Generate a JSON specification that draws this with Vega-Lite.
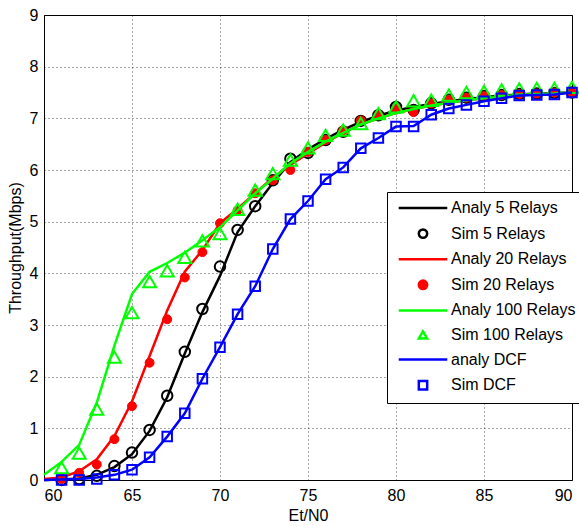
{
  "$schema": "https://vega.github.io/schema/vega-lite/v6.json",
  "width": 528,
  "height": 465,
  "autosize": "none",
  "padding": {"left": 44, "top": 15, "right": 7, "bottom": 47},
  "background": "white",
  "config": {
    "font": "Liberation Sans",
    "view": {"stroke": "black", "strokeWidth": 1},
    "axis": {
      "grid": true, "gridColor": "black", "gridDash": [1, 3], "gridOpacity": 0.7, "gridWidth": 1,
      "domain": false, "ticks": false,
      "labelFont": "Liberation Sans", "labelFontSize": 16, "labelColor": "black",
      "titleFont": "Liberation Sans", "titleFontSize": 16, "titleFontWeight": "normal", "titleColor": "black"
    },
    "legend": {
      "orient": "none", "legendX": 343, "legendY": 177,
      "strokeColor": "black", "fillColor": "white", "padding": 8,
      "labelFont": "Liberation Sans", "labelFontSize": 16, "labelColor": "black",
      "rowPadding": 7.6, "symbolSize": 70, "symbolStrokeWidth": 2.5,
      "symbolOffset": 20, "labelOffset": 20, "cornerRadius": 0
    }
  },
  "datasets": {
    "pts": [
      {"series": "Analy 5 Relays", "x": 60, "y": 0}, {"series": "Analy 5 Relays", "x": 61, "y": 0.01}, {"series": "Analy 5 Relays", "x": 62, "y": 0.03}, {"series": "Analy 5 Relays", "x": 63, "y": 0.1}, {"series": "Analy 5 Relays", "x": 64, "y": 0.25}, {"series": "Analy 5 Relays", "x": 65, "y": 0.5}, {"series": "Analy 5 Relays", "x": 66, "y": 0.95}, {"series": "Analy 5 Relays", "x": 67, "y": 1.6}, {"series": "Analy 5 Relays", "x": 68, "y": 2.45}, {"series": "Analy 5 Relays", "x": 69, "y": 3.25}, {"series": "Analy 5 Relays", "x": 70, "y": 3.95}, {"series": "Analy 5 Relays", "x": 71, "y": 4.8}, {"series": "Analy 5 Relays", "x": 72, "y": 5.3}, {"series": "Analy 5 Relays", "x": 73, "y": 5.75}, {"series": "Analy 5 Relays", "x": 74, "y": 6.15}, {"series": "Analy 5 Relays", "x": 75, "y": 6.4}, {"series": "Analy 5 Relays", "x": 76, "y": 6.6}, {"series": "Analy 5 Relays", "x": 77, "y": 6.78}, {"series": "Analy 5 Relays", "x": 78, "y": 6.93}, {"series": "Analy 5 Relays", "x": 79, "y": 7.05}, {"series": "Analy 5 Relays", "x": 80, "y": 7.15}, {"series": "Analy 5 Relays", "x": 81, "y": 7.22}, {"series": "Analy 5 Relays", "x": 82, "y": 7.28}, {"series": "Analy 5 Relays", "x": 83, "y": 7.33}, {"series": "Analy 5 Relays", "x": 84, "y": 7.37}, {"series": "Analy 5 Relays", "x": 85, "y": 7.41}, {"series": "Analy 5 Relays", "x": 86, "y": 7.44}, {"series": "Analy 5 Relays", "x": 87, "y": 7.46}, {"series": "Analy 5 Relays", "x": 88, "y": 7.48}, {"series": "Analy 5 Relays", "x": 89, "y": 7.49}, {"series": "Analy 5 Relays", "x": 90, "y": 7.5},
      {"series": "Sim 5 Relays", "x": 61, "y": 0}, {"series": "Sim 5 Relays", "x": 62, "y": 0.02}, {"series": "Sim 5 Relays", "x": 63, "y": 0.08}, {"series": "Sim 5 Relays", "x": 64, "y": 0.27}, {"series": "Sim 5 Relays", "x": 65, "y": 0.53}, {"series": "Sim 5 Relays", "x": 66, "y": 0.97}, {"series": "Sim 5 Relays", "x": 67, "y": 1.63}, {"series": "Sim 5 Relays", "x": 68, "y": 2.48}, {"series": "Sim 5 Relays", "x": 69, "y": 3.31}, {"series": "Sim 5 Relays", "x": 70, "y": 4.13}, {"series": "Sim 5 Relays", "x": 71, "y": 4.84}, {"series": "Sim 5 Relays", "x": 72, "y": 5.3}, {"series": "Sim 5 Relays", "x": 73, "y": 5.8}, {"series": "Sim 5 Relays", "x": 74, "y": 6.22}, {"series": "Sim 5 Relays", "x": 75, "y": 6.33}, {"series": "Sim 5 Relays", "x": 76, "y": 6.58}, {"series": "Sim 5 Relays", "x": 77, "y": 6.74}, {"series": "Sim 5 Relays", "x": 78, "y": 6.95}, {"series": "Sim 5 Relays", "x": 79, "y": 7.06}, {"series": "Sim 5 Relays", "x": 80, "y": 7.22}, {"series": "Sim 5 Relays", "x": 81, "y": 7.16}, {"series": "Sim 5 Relays", "x": 82, "y": 7.29}, {"series": "Sim 5 Relays", "x": 83, "y": 7.36}, {"series": "Sim 5 Relays", "x": 84, "y": 7.4}, {"series": "Sim 5 Relays", "x": 85, "y": 7.43}, {"series": "Sim 5 Relays", "x": 86, "y": 7.45}, {"series": "Sim 5 Relays", "x": 87, "y": 7.47}, {"series": "Sim 5 Relays", "x": 88, "y": 7.48}, {"series": "Sim 5 Relays", "x": 89, "y": 7.49}, {"series": "Sim 5 Relays", "x": 90, "y": 7.5},
      {"series": "Analy 20 Relays", "x": 60, "y": 0.02}, {"series": "Analy 20 Relays", "x": 61, "y": 0.05}, {"series": "Analy 20 Relays", "x": 62, "y": 0.17}, {"series": "Analy 20 Relays", "x": 63, "y": 0.4}, {"series": "Analy 20 Relays", "x": 64, "y": 0.85}, {"series": "Analy 20 Relays", "x": 65, "y": 1.52}, {"series": "Analy 20 Relays", "x": 66, "y": 2.4}, {"series": "Analy 20 Relays", "x": 67, "y": 3.28}, {"series": "Analy 20 Relays", "x": 68, "y": 4.03}, {"series": "Analy 20 Relays", "x": 69, "y": 4.45}, {"series": "Analy 20 Relays", "x": 70, "y": 4.97}, {"series": "Analy 20 Relays", "x": 71, "y": 5.25}, {"series": "Analy 20 Relays", "x": 72, "y": 5.55}, {"series": "Analy 20 Relays", "x": 73, "y": 5.85}, {"series": "Analy 20 Relays", "x": 74, "y": 6.1}, {"series": "Analy 20 Relays", "x": 75, "y": 6.32}, {"series": "Analy 20 Relays", "x": 76, "y": 6.53}, {"series": "Analy 20 Relays", "x": 77, "y": 6.72}, {"series": "Analy 20 Relays", "x": 78, "y": 6.88}, {"series": "Analy 20 Relays", "x": 79, "y": 7.0}, {"series": "Analy 20 Relays", "x": 80, "y": 7.1}, {"series": "Analy 20 Relays", "x": 81, "y": 7.18}, {"series": "Analy 20 Relays", "x": 82, "y": 7.25}, {"series": "Analy 20 Relays", "x": 83, "y": 7.3}, {"series": "Analy 20 Relays", "x": 84, "y": 7.35}, {"series": "Analy 20 Relays", "x": 85, "y": 7.39}, {"series": "Analy 20 Relays", "x": 86, "y": 7.42}, {"series": "Analy 20 Relays", "x": 87, "y": 7.45}, {"series": "Analy 20 Relays", "x": 88, "y": 7.47}, {"series": "Analy 20 Relays", "x": 89, "y": 7.48}, {"series": "Analy 20 Relays", "x": 90, "y": 7.5},
      {"series": "Sim 20 Relays", "x": 61, "y": 0.02}, {"series": "Sim 20 Relays", "x": 62, "y": 0.14}, {"series": "Sim 20 Relays", "x": 63, "y": 0.3}, {"series": "Sim 20 Relays", "x": 64, "y": 0.79}, {"series": "Sim 20 Relays", "x": 65, "y": 1.43}, {"series": "Sim 20 Relays", "x": 66, "y": 2.27}, {"series": "Sim 20 Relays", "x": 67, "y": 3.11}, {"series": "Sim 20 Relays", "x": 68, "y": 3.92}, {"series": "Sim 20 Relays", "x": 69, "y": 4.41}, {"series": "Sim 20 Relays", "x": 70, "y": 4.97}, {"series": "Sim 20 Relays", "x": 71, "y": 5.22}, {"series": "Sim 20 Relays", "x": 72, "y": 5.55}, {"series": "Sim 20 Relays", "x": 73, "y": 5.8}, {"series": "Sim 20 Relays", "x": 74, "y": 6.0}, {"series": "Sim 20 Relays", "x": 75, "y": 6.35}, {"series": "Sim 20 Relays", "x": 76, "y": 6.58}, {"series": "Sim 20 Relays", "x": 77, "y": 6.77}, {"series": "Sim 20 Relays", "x": 78, "y": 6.96}, {"series": "Sim 20 Relays", "x": 79, "y": 7.06}, {"series": "Sim 20 Relays", "x": 80, "y": 7.19}, {"series": "Sim 20 Relays", "x": 81, "y": 7.12}, {"series": "Sim 20 Relays", "x": 82, "y": 7.29}, {"series": "Sim 20 Relays", "x": 83, "y": 7.35}, {"series": "Sim 20 Relays", "x": 84, "y": 7.4}, {"series": "Sim 20 Relays", "x": 85, "y": 7.43}, {"series": "Sim 20 Relays", "x": 86, "y": 7.45}, {"series": "Sim 20 Relays", "x": 87, "y": 7.47}, {"series": "Sim 20 Relays", "x": 88, "y": 7.48}, {"series": "Sim 20 Relays", "x": 89, "y": 7.5}, {"series": "Sim 20 Relays", "x": 90, "y": 7.5},
      {"series": "Analy 100 Relays", "x": 60, "y": 0.1}, {"series": "Analy 100 Relays", "x": 61, "y": 0.35}, {"series": "Analy 100 Relays", "x": 62, "y": 0.68}, {"series": "Analy 100 Relays", "x": 63, "y": 1.5}, {"series": "Analy 100 Relays", "x": 64, "y": 2.6}, {"series": "Analy 100 Relays", "x": 65, "y": 3.6}, {"series": "Analy 100 Relays", "x": 66, "y": 4.03}, {"series": "Analy 100 Relays", "x": 67, "y": 4.2}, {"series": "Analy 100 Relays", "x": 68, "y": 4.4}, {"series": "Analy 100 Relays", "x": 69, "y": 4.64}, {"series": "Analy 100 Relays", "x": 70, "y": 4.89}, {"series": "Analy 100 Relays", "x": 71, "y": 5.22}, {"series": "Analy 100 Relays", "x": 72, "y": 5.55}, {"series": "Analy 100 Relays", "x": 73, "y": 5.83}, {"series": "Analy 100 Relays", "x": 74, "y": 6.13}, {"series": "Analy 100 Relays", "x": 75, "y": 6.35}, {"series": "Analy 100 Relays", "x": 76, "y": 6.55}, {"series": "Analy 100 Relays", "x": 77, "y": 6.72}, {"series": "Analy 100 Relays", "x": 78, "y": 6.88}, {"series": "Analy 100 Relays", "x": 79, "y": 7.0}, {"series": "Analy 100 Relays", "x": 80, "y": 7.1}, {"series": "Analy 100 Relays", "x": 81, "y": 7.18}, {"series": "Analy 100 Relays", "x": 82, "y": 7.25}, {"series": "Analy 100 Relays", "x": 83, "y": 7.3}, {"series": "Analy 100 Relays", "x": 84, "y": 7.35}, {"series": "Analy 100 Relays", "x": 85, "y": 7.39}, {"series": "Analy 100 Relays", "x": 86, "y": 7.42}, {"series": "Analy 100 Relays", "x": 87, "y": 7.45}, {"series": "Analy 100 Relays", "x": 88, "y": 7.47}, {"series": "Analy 100 Relays", "x": 89, "y": 7.48}, {"series": "Analy 100 Relays", "x": 90, "y": 7.5},
      {"series": "Sim 100 Relays", "x": 61, "y": 0.24}, {"series": "Sim 100 Relays", "x": 62, "y": 0.52}, {"series": "Sim 100 Relays", "x": 63, "y": 1.37}, {"series": "Sim 100 Relays", "x": 64, "y": 2.38}, {"series": "Sim 100 Relays", "x": 65, "y": 3.24}, {"series": "Sim 100 Relays", "x": 66, "y": 3.84}, {"series": "Sim 100 Relays", "x": 67, "y": 4.05}, {"series": "Sim 100 Relays", "x": 68, "y": 4.31}, {"series": "Sim 100 Relays", "x": 69, "y": 4.63}, {"series": "Sim 100 Relays", "x": 70, "y": 4.77}, {"series": "Sim 100 Relays", "x": 71, "y": 5.24}, {"series": "Sim 100 Relays", "x": 72, "y": 5.61}, {"series": "Sim 100 Relays", "x": 73, "y": 5.93}, {"series": "Sim 100 Relays", "x": 74, "y": 6.19}, {"series": "Sim 100 Relays", "x": 75, "y": 6.43}, {"series": "Sim 100 Relays", "x": 76, "y": 6.67}, {"series": "Sim 100 Relays", "x": 77, "y": 6.77}, {"series": "Sim 100 Relays", "x": 78, "y": 6.9}, {"series": "Sim 100 Relays", "x": 79, "y": 7.09}, {"series": "Sim 100 Relays", "x": 80, "y": 7.22}, {"series": "Sim 100 Relays", "x": 81, "y": 7.34}, {"series": "Sim 100 Relays", "x": 82, "y": 7.35}, {"series": "Sim 100 Relays", "x": 83, "y": 7.45}, {"series": "Sim 100 Relays", "x": 84, "y": 7.5}, {"series": "Sim 100 Relays", "x": 85, "y": 7.52}, {"series": "Sim 100 Relays", "x": 86, "y": 7.55}, {"series": "Sim 100 Relays", "x": 87, "y": 7.57}, {"series": "Sim 100 Relays", "x": 88, "y": 7.58}, {"series": "Sim 100 Relays", "x": 89, "y": 7.58}, {"series": "Sim 100 Relays", "x": 90, "y": 7.6},
      {"series": "analy DCF", "x": 60, "y": 0}, {"series": "analy DCF", "x": 61, "y": 0.01}, {"series": "analy DCF", "x": 62, "y": 0.02}, {"series": "analy DCF", "x": 63, "y": 0.05}, {"series": "analy DCF", "x": 64, "y": 0.1}, {"series": "analy DCF", "x": 65, "y": 0.2}, {"series": "analy DCF", "x": 66, "y": 0.44}, {"series": "analy DCF", "x": 67, "y": 0.84}, {"series": "analy DCF", "x": 68, "y": 1.29}, {"series": "analy DCF", "x": 69, "y": 1.96}, {"series": "analy DCF", "x": 70, "y": 2.57}, {"series": "analy DCF", "x": 71, "y": 3.21}, {"series": "analy DCF", "x": 72, "y": 3.75}, {"series": "analy DCF", "x": 73, "y": 4.47}, {"series": "analy DCF", "x": 74, "y": 5.05}, {"series": "analy DCF", "x": 75, "y": 5.4}, {"series": "analy DCF", "x": 76, "y": 5.82}, {"series": "analy DCF", "x": 77, "y": 6.05}, {"series": "analy DCF", "x": 78, "y": 6.42}, {"series": "analy DCF", "x": 79, "y": 6.62}, {"series": "analy DCF", "x": 80, "y": 6.84}, {"series": "analy DCF", "x": 81, "y": 6.85}, {"series": "analy DCF", "x": 82, "y": 7.07}, {"series": "analy DCF", "x": 83, "y": 7.19}, {"series": "analy DCF", "x": 84, "y": 7.26}, {"series": "analy DCF", "x": 85, "y": 7.33}, {"series": "analy DCF", "x": 86, "y": 7.39}, {"series": "analy DCF", "x": 87, "y": 7.44}, {"series": "analy DCF", "x": 88, "y": 7.45}, {"series": "analy DCF", "x": 89, "y": 7.46}, {"series": "analy DCF", "x": 90, "y": 7.5},
      {"series": "Sim DCF", "x": 61, "y": 0}, {"series": "Sim DCF", "x": 62, "y": 0}, {"series": "Sim DCF", "x": 63, "y": 0.02}, {"series": "Sim DCF", "x": 64, "y": 0.1}, {"series": "Sim DCF", "x": 65, "y": 0.2}, {"series": "Sim DCF", "x": 66, "y": 0.44}, {"series": "Sim DCF", "x": 67, "y": 0.84}, {"series": "Sim DCF", "x": 68, "y": 1.29}, {"series": "Sim DCF", "x": 69, "y": 1.96}, {"series": "Sim DCF", "x": 70, "y": 2.57}, {"series": "Sim DCF", "x": 71, "y": 3.21}, {"series": "Sim DCF", "x": 72, "y": 3.75}, {"series": "Sim DCF", "x": 73, "y": 4.47}, {"series": "Sim DCF", "x": 74, "y": 5.05}, {"series": "Sim DCF", "x": 75, "y": 5.4}, {"series": "Sim DCF", "x": 76, "y": 5.82}, {"series": "Sim DCF", "x": 77, "y": 6.05}, {"series": "Sim DCF", "x": 78, "y": 6.42}, {"series": "Sim DCF", "x": 79, "y": 6.62}, {"series": "Sim DCF", "x": 80, "y": 6.84}, {"series": "Sim DCF", "x": 81, "y": 6.84}, {"series": "Sim DCF", "x": 82, "y": 7.07}, {"series": "Sim DCF", "x": 83, "y": 7.19}, {"series": "Sim DCF", "x": 84, "y": 7.26}, {"series": "Sim DCF", "x": 85, "y": 7.33}, {"series": "Sim DCF", "x": 86, "y": 7.39}, {"series": "Sim DCF", "x": 87, "y": 7.44}, {"series": "Sim DCF", "x": 88, "y": 7.45}, {"series": "Sim DCF", "x": 89, "y": 7.46}, {"series": "Sim DCF", "x": 90, "y": 7.5}
    ]
  },
  "data": {"name": "pts"},
  "encoding": {
    "x": {"field": "x", "type": "quantitative", "scale": {"domain": [60, 90], "nice": false, "zero": false},
      "axis": {"title": "Et/N0", "values": [60, 65, 70, 75, 80, 85, 90], "labelPadding": 7, "titlePadding": 4}},
    "y": {"field": "y", "type": "quantitative", "scale": {"domain": [0, 9], "nice": false},
      "axis": {"title": "Throughput(Mbps)", "values": [0, 1, 2, 3, 4, 5, 6, 7, 8, 9], "labelPadding": 6, "titlePadding": 6}}
  },
  "layer": [
    {"transform": [{"filter": "datum.series === 'Analy 5 Relays'"}], "mark": {"type": "line", "strokeWidth": 2.5},
     "encoding": {"stroke": {"field": "series", "type": "nominal", "title": null,
       "scale": {"domain": ["Analy 5 Relays", "Sim 5 Relays", "Analy 20 Relays", "Sim 20 Relays", "Analy 100 Relays", "Sim 100 Relays", "analy DCF", "Sim DCF"],
                 "range": ["#000000", "#000000", "#ff0000", "#ff0000", "#00ff00", "#00ff00", "#0000ff", "#0000ff"]}}}},
    {"transform": [{"filter": "datum.series === 'Sim 5 Relays'"}], "mark": {"type": "point", "size": 110, "strokeWidth": 2, "opacity": 1},
     "encoding": {"stroke": {"field": "series", "type": "nominal", "title": null},
       "fill": {"field": "series", "type": "nominal", "title": null,
         "scale": {"domain": ["Analy 5 Relays", "Sim 5 Relays", "Analy 20 Relays", "Sim 20 Relays", "Analy 100 Relays", "Sim 100 Relays", "analy DCF", "Sim DCF"],
                   "range": ["transparent", "transparent", "transparent", "#ff0000", "transparent", "transparent", "transparent", "transparent"]}},
       "shape": {"field": "series", "type": "nominal", "title": null,
         "scale": {"domain": ["Analy 5 Relays", "Sim 5 Relays", "Analy 20 Relays", "Sim 20 Relays", "Analy 100 Relays", "Sim 100 Relays", "analy DCF", "Sim DCF"],
                   "range": ["M-5.8,0H5.8", "circle", "M-5.8,0H5.8", "circle", "M-5.8,0H5.8", "triangle-up", "M-5.8,0H5.8", "square"]}}}},
    {"transform": [{"filter": "datum.series === 'Analy 20 Relays'"}], "mark": {"type": "line", "strokeWidth": 2.5},
     "encoding": {"stroke": {"field": "series", "type": "nominal", "title": null}}},
    {"transform": [{"filter": "datum.series === 'Sim 20 Relays'"}], "mark": {"type": "point", "size": 80, "strokeWidth": 1, "opacity": 1},
     "encoding": {"stroke": {"field": "series", "type": "nominal", "title": null}, "fill": {"field": "series", "type": "nominal", "title": null}, "shape": {"field": "series", "type": "nominal", "title": null}}},
    {"transform": [{"filter": "datum.series === 'Analy 100 Relays'"}], "mark": {"type": "line", "strokeWidth": 2.5},
     "encoding": {"stroke": {"field": "series", "type": "nominal", "title": null}}},
    {"transform": [{"filter": "datum.series === 'Sim 100 Relays'"}], "mark": {"type": "point", "size": 170, "strokeWidth": 2, "opacity": 1},
     "encoding": {"stroke": {"field": "series", "type": "nominal", "title": null}, "fill": {"field": "series", "type": "nominal", "title": null}, "shape": {"field": "series", "type": "nominal", "title": null}}},
    {"transform": [{"filter": "datum.series === 'analy DCF'"}], "mark": {"type": "line", "strokeWidth": 2.5},
     "encoding": {"stroke": {"field": "series", "type": "nominal", "title": null}}},
    {"transform": [{"filter": "datum.series === 'Sim DCF'"}], "mark": {"type": "point", "size": 90, "strokeWidth": 2, "opacity": 1},
     "encoding": {"stroke": {"field": "series", "type": "nominal", "title": null}, "fill": {"field": "series", "type": "nominal", "title": null}, "shape": {"field": "series", "type": "nominal", "title": null}}}
  ]
}
